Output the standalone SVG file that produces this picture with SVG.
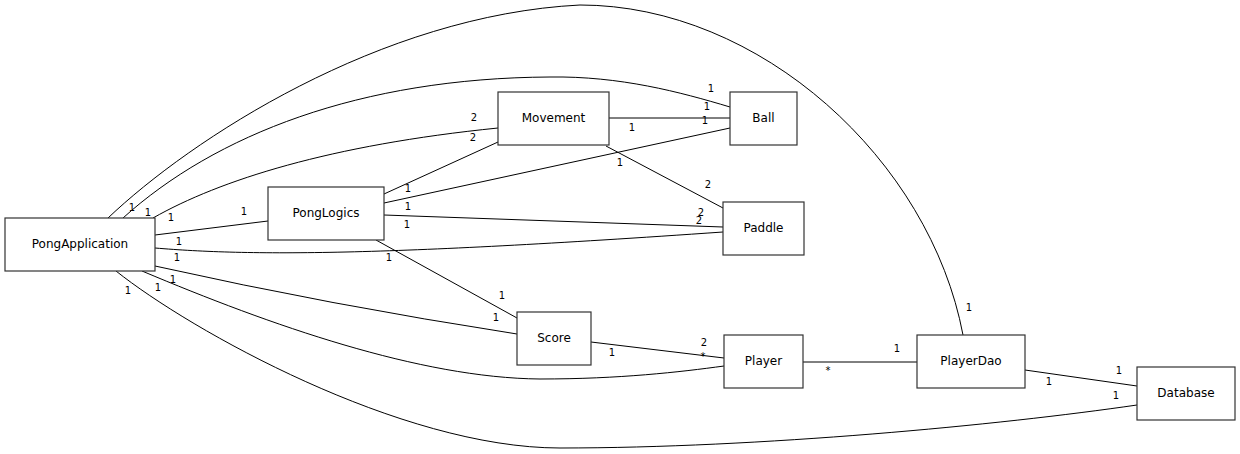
<svg xmlns="http://www.w3.org/2000/svg" width="1240" height="454" viewBox="0 0 1240 454">
<style>
.n rect{fill:#fff;stroke:#333;stroke-width:1.2}
.n text{font-family:"DejaVu Sans",Verdana,sans-serif;font-size:12px;fill:#000;text-anchor:middle}
.e path{fill:none;stroke:#000;stroke-width:1}
.e text{font-family:"DejaVu Sans",Verdana,sans-serif;font-size:10px;fill:#000;text-anchor:middle}
</style>
<rect width="1240" height="454" fill="#fff"/>
<g id="connectors" class="e">
<g id="e-app-dao"><path d="M108,218 C190,140 380,15 580,5 C760,5 930,160 963,335"/><text x="132" y="211">1</text><text x="969" y="311">1</text></g>
<g id="e-app-ball"><path d="M123,218 C215,135 360,78 550,77 C620,76 680,92 730,107"/><text x="148" y="216">1</text><text x="711" y="92">1</text></g>
<g id="e-app-movement"><path d="M153,218 C220,180 330,145 498,128"/><text x="171" y="221">1</text><text x="474" y="121">2</text></g>
<g id="e-app-logics"><path d="M155,235 L268,221"/><text x="179" y="245">1</text><text x="244" y="215">1</text></g>
<g id="e-app-paddle"><path d="M155,248 C250,256 380,256 723,232"/><text x="177" y="261">1</text><text x="699" y="224">2</text></g>
<g id="e-app-score"><path d="M155,266 Q330,305 517,334"/><text x="173" y="283">1</text><text x="496" y="321">1</text></g>
<g id="e-app-player"><path d="M142,271 C270,325 420,378 540,379 C620,379 680,372 724,366"/><text x="158" y="291">1</text><text x="703" y="360">*</text></g>
<g id="e-app-db"><path d="M116,271 C190,330 400,448 560,448 C760,448 1000,425 1137,405"/><text x="128" y="294">1</text><text x="1116" y="399">1</text></g>
<g id="e-logics-movement"><path d="M384,194 L498,142"/><text x="408" y="192">1</text><text x="473" y="141">2</text></g>
<g id="e-logics-ball"><path d="M384,203 L730,128"/><text x="408" y="210">1</text><text x="705" y="124">1</text></g>
<g id="e-logics-paddle"><path d="M384,215 L723,227"/><text x="407" y="228">1</text><text x="701" y="216">2</text></g>
<g id="e-logics-score"><path d="M376,240 L517,318"/><text x="389" y="261">1</text><text x="502" y="299">1</text></g>
<g id="e-movement-ball"><path d="M609,118 L730,118"/><text x="632" y="131">1</text><text x="707" y="110">1</text></g>
<g id="e-movement-paddle"><path d="M606,146 L723,208"/><text x="620" y="166">1</text><text x="708" y="188">2</text></g>
<g id="e-score-player"><path d="M591,342 L724,358"/><text x="612" y="356">1</text><text x="704" y="346">2</text></g>
<g id="e-player-dao"><path d="M803,362 L917,362"/><text x="828" y="374">*</text><text x="897" y="352">1</text></g>
<g id="e-dao-db"><path d="M1025,370 L1137,386"/><text x="1049" y="385">1</text><text x="1119" y="374">1</text></g>
</g>
<g id="PongApplication" class="n"><rect x="5" y="218" width="150" height="53"/><text x="80" y="248">PongApplication</text></g>
<g id="PongLogics" class="n"><rect x="268" y="187" width="116" height="53"/><text x="326" y="217">PongLogics</text></g>
<g id="Movement" class="n"><rect x="498" y="92" width="111" height="53"/><text x="553.5" y="122">Movement</text></g>
<g id="Ball" class="n"><rect x="730" y="92" width="67" height="53"/><text x="763.5" y="122">Ball</text></g>
<g id="Paddle" class="n"><rect x="723" y="202" width="81" height="53"/><text x="763.5" y="232">Paddle</text></g>
<g id="Score" class="n"><rect x="517" y="312" width="74" height="53"/><text x="554" y="342">Score</text></g>
<g id="Player" class="n"><rect x="724" y="335" width="79" height="53"/><text x="763.5" y="365">Player</text></g>
<g id="PlayerDao" class="n"><rect x="917" y="335" width="108" height="53"/><text x="971" y="365">PlayerDao</text></g>
<g id="Database" class="n"><rect x="1137" y="367" width="98" height="53"/><text x="1186" y="397">Database</text></g>
</svg>
